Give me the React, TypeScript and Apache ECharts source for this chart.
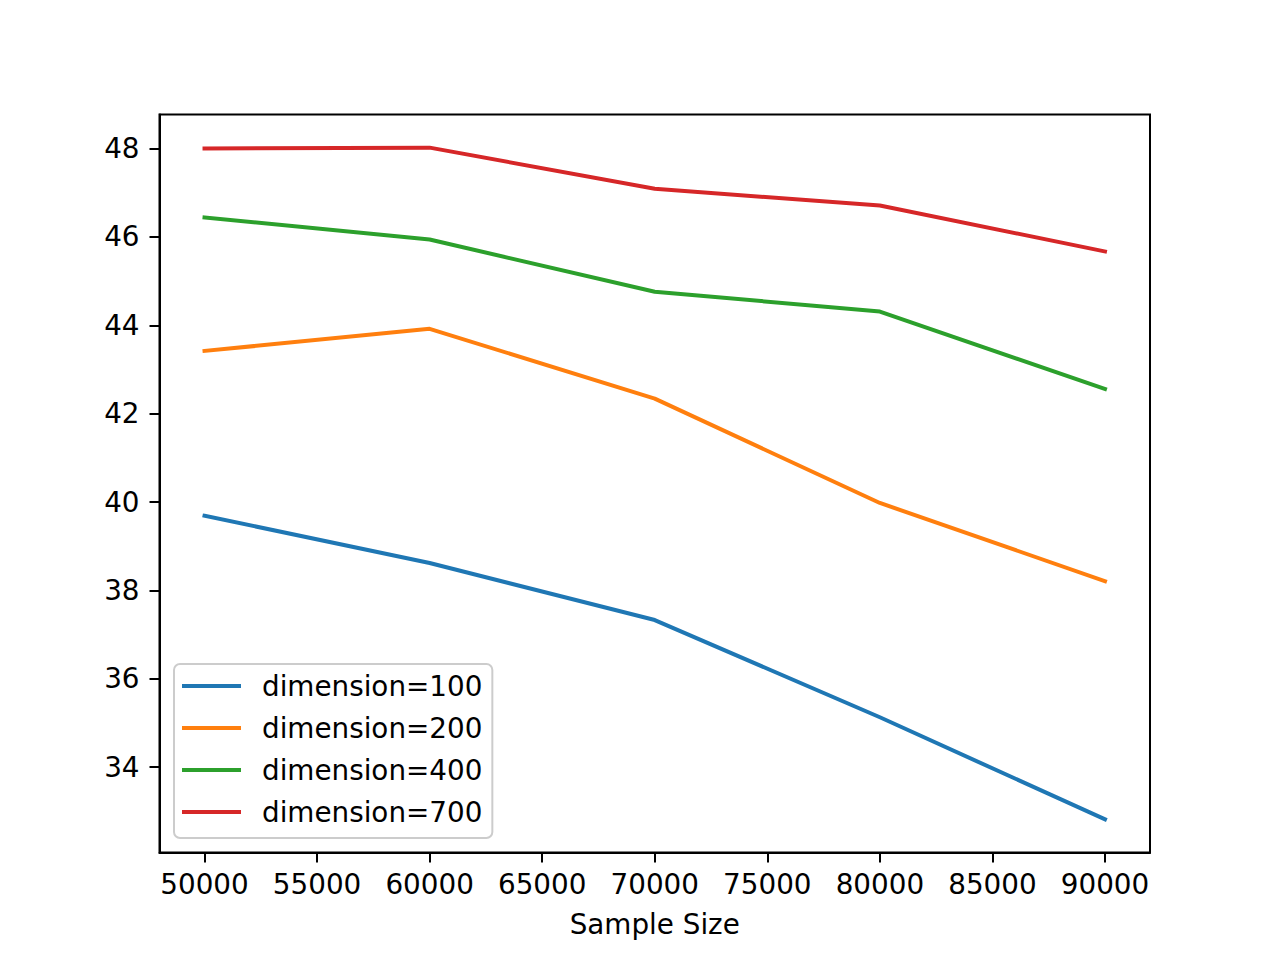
import React, { useEffect, useRef } from "react";
import * as echarts from "echarts";

const sampleSizes = [50000, 60000, 70000, 80000, 90000];
const dim100 = [39.69, 38.62, 37.33, 35.13, 32.82];
const dim200 = [43.42, 43.92, 42.34, 39.98, 38.21];
const dim400 = [46.44, 45.94, 44.76, 44.31, 42.56];
const dim700 = [48.0, 48.02, 47.09, 46.71, 45.67];
const seriesNames = ["dimension=100", "dimension=200", "dimension=400", "dimension=700"];
const seriesColors = ["#1f77b4", "#ff7f0e", "#2ca02c", "#d62728"];
const xTicks = [50000, 55000, 60000, 65000, 70000, 75000, 80000, 85000, 90000];
const yTicks = [34, 36, 38, 40, 42, 44, 46, 48];

const FONT = "DejaVu Sans";
const FS = 27.8;

export default function App() {
  const ref = useRef<HTMLDivElement>(null);
  useEffect(() => {
    if (!ref.current) return;
    const chart = echarts.init(ref.current, null, { renderer: "svg" });
    const allData = [dim100, dim200, dim400, dim700];
    chart.setOption({
      animation: false,
      backgroundColor: "#ffffff",
      textStyle: { fontFamily: FONT },
      grid: {
        left: 159.5,
        right: 133,
        top: 114.5,
        bottom: 108.5,
        show: true,
        borderColor: "#000",
        borderWidth: 2,
        backgroundColor: "transparent",
      },
      legend: {
        orient: "vertical",
        left: 174,
        top: 664,
        padding: [8, 10, 12, 8],
        itemGap: 14,
        itemWidth: 59,
        itemHeight: 4,
        icon: "rect",
        backgroundColor: "rgba(255,255,255,0.8)",
        borderColor: "#cccccc",
        borderWidth: 2,
        borderRadius: 6,
        textStyle: {
          fontFamily: FONT,
          fontSize: FS,
          color: "#000",
          lineHeight: 28,
          padding: [0, 0, 0, 16],
        },
        data: seriesNames,
      },
      xAxis: {
        type: "value",
        min: 48000,
        max: 92000,
        name: "Sample Size",
        nameLocation: "middle",
        nameGap: 58,
        nameTextStyle: { fontFamily: FONT, fontSize: FS, color: "#000" },
        axisLine: { show: true, lineStyle: { color: "#000", width: 2 } },
        axisTick: {
          show: true,
          length: 10,
          lineStyle: { color: "#000", width: 2 },
          customValues: xTicks,
        },
        axisLabel: {
          fontFamily: FONT,
          fontSize: FS,
          color: "#000",
          margin: 18,
          customValues: xTicks,
          formatter: (v: number) => String(v),
        },
        splitLine: { show: false },
      },
      yAxis: {
        type: "value",
        min: 32.07,
        max: 48.77,
        axisLine: { show: true, lineStyle: { color: "#000", width: 2 } },
        axisTick: {
          show: true,
          length: 10,
          lineStyle: { color: "#000", width: 2 },
          customValues: yTicks,
        },
        axisLabel: {
          fontFamily: FONT,
          fontSize: FS,
          color: "#000",
          margin: 20,
          customValues: yTicks,
          formatter: (v: number) => String(v),
        },
        splitLine: { show: false },
      },
      series: seriesNames.map((name, i) => ({
        name,
        type: "line",
        symbol: "none",
        color: seriesColors[i],
        lineStyle: { width: 4, color: seriesColors[i], cap: "square", join: "round" },
        data: sampleSizes.map((x, j) => [x, allData[i][j]]),
      })),
    });
    return () => chart.dispose();
  }, []);
  return (
    <div
      ref={ref}
      style={{ position: "absolute", left: 0, top: 0, width: 1283, height: 961 }}
    />
  );
}
